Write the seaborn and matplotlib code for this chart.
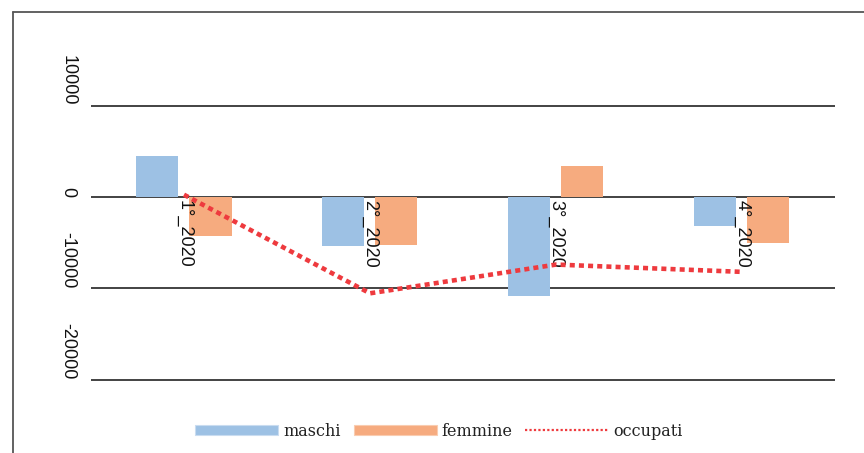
import pandas as pd
import matplotlib.pyplot as plt
import seaborn as sns
from matplotlib.lines import Line2D

# dati (variazioni per trimestre)
trimestri = ['1°_2020', '2°_2020', '3°_2020', '4°_2020']
maschi = [4500, -5350, -10850, -3200]
femmine = [-4250, -5250, 3400, -5050]
occupati = [250, -10550, -7400, -8200]
yticks = [10000, 0, -10000, -20000]

df = pd.DataFrame({
    'trimestre': trimestri * 2,
    'valore': maschi + femmine,
    'sesso': ['maschi'] * 4 + ['femmine'] * 4,
})

sns.set_style('white')
plt.rcParams['font.family'] = ['Liberation Sans', 'DejaVu Sans']

fig = plt.figure(figsize=(8.64, 4.53), dpi=100)
ax = fig.add_axes([0.1053, 0.1419, 0.8611, 0.6852])

blu, arancio, rosso = '#9dc1e4', '#f6ab7f', '#ee3a3e'

sns.barplot(data=df, x='trimestre', y='valore', hue='sesso',
            palette=[blu, arancio], width=0.57, gap=0.207,
            saturation=1, linewidth=0, ax=ax, zorder=2)
sns.pointplot(x=trimestri, y=occupati, color=rosso, markers='',
              linestyle=(0, (1.1, 0.9)), linewidth=3.3, ax=ax, zorder=4)

ax.get_legend().remove()

ax.set_xlim(-0.5, 3.5)
ax.set_ylim(-21000, 13000)
ax.set_xlabel('')
ax.set_ylabel('')

# griglia orizzontale sotto le barre, etichette x sopra
ax.set_yticks(yticks)
ax.yaxis.grid(True, color='#222222', linewidth=1.2)
ax.xaxis.grid(False)
ax.set_axisbelow(True)
ax.xaxis.set_zorder(3)
for s in ['top', 'right', 'left']:
    ax.spines[s].set_visible(False)
ax.spines['bottom'].set_position(('data', 0))
ax.spines['bottom'].set_visible(False)

ax.set_yticklabels([str(t) for t in yticks], rotation=-90,
                   rotation_mode='anchor', ha='right', va='center',
                   fontsize=13, color='#111111')
ax.tick_params(axis='y', length=0, pad=16.5)

ax.set_xticks(range(len(trimestri)))
ax.set_xticklabels(trimestri, rotation=-90, rotation_mode='anchor',
                   ha='left', va='center', fontsize=13, color='#111111')
ax.tick_params(axis='x', length=0, pad=2)

# cornice
fig.add_artist(Line2D([0.0156, 0.0156], [0, 0.9735], color='#555555', lw=1.3))
fig.add_artist(Line2D([0.0156, 1.0], [0.9735, 0.9735], color='#555555', lw=1.3))

# legenda
handles = [
    plt.Rectangle((0, 0), 1, 1, facecolor=blu, edgecolor='#c9dcf0', lw=0.8),
    plt.Rectangle((0, 0), 1, 1, facecolor=arancio, edgecolor='#f9ccb0', lw=0.8),
    Line2D([], [], color=rosso, lw=1.6, linestyle=(0, (1, 1))),
]
fig.legend(handles, ['maschi', 'femmine', 'occupati'], loc='center',
           bbox_to_anchor=(0.508, 0.048), ncol=3, frameon=False,
           prop={'family': 'DejaVu Serif', 'size': 11.5},
           handlelength=5.2, handleheight=0.65, handletextpad=0.3,
           columnspacing=0.8, labelcolor='#222222')

fig.savefig('out.png', dpi=100)
